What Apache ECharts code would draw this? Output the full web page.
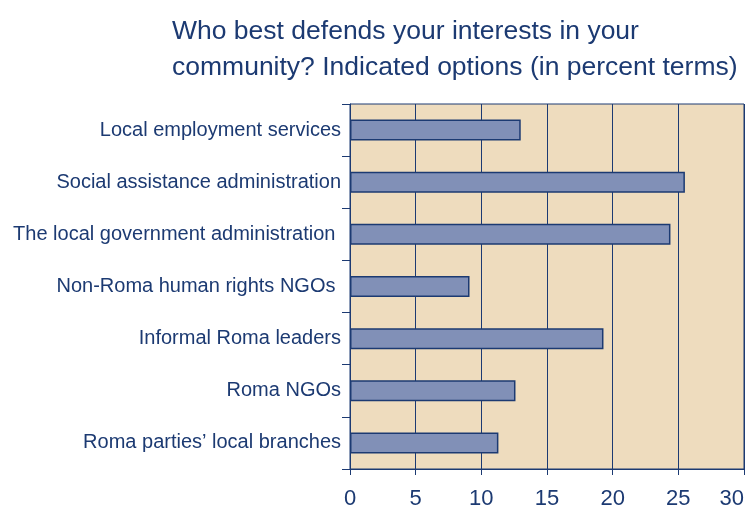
<!DOCTYPE html>
<html>
<head>
<meta charset="utf-8">
<script src="https://cdn.jsdelivr.net/npm/echarts@6/dist/echarts.min.js"></script>
<style>
    html, body { margin: 0; padding: 0; background: #fff; }
    #chart { width: 752px; height: 517px; }
</style>
</head>
<body>
<div id="chart"></div>
<script>
var categories = [
    'Local employment services',
    'Social assistance administration',
    'The local government administration ',
    'Non-Roma human rights NGOs ',
    'Informal Roma leaders',
    'Roma NGOs',
    'Roma parties\u2019 local branches'
];
var percents = [13.0, 25.5, 24.4, 9.1, 19.3, 12.6, 11.3];
var xTicks = [0, 30, 5]; // min, max, step

var navy = '#1c3a72';

var chart = echarts.init(document.getElementById('chart'));
var option = {
    backgroundColor: '#ffffff',
    textStyle: { fontFamily: 'Liberation Sans, Arial, sans-serif' },
    title: {
        text: 'Who best defends your interests in your\ncommunity? Indicated options (in percent terms)',
        left: 167,
        top: 9,
        textStyle: {
            color: navy,
            fontSize: 26.5,
            fontWeight: 'normal',
            lineHeight: 36
        }
    },
    grid: {
        show: true,
        left: 350,
        right: 8,
        top: 104,
        bottom: 48,
        outerBoundsMode: 'none',
        backgroundColor: '#eedcbe',
        borderColor: navy,
        borderWidth: 1
    },
    xAxis: {
        type: 'value',
        min: xTicks[0],
        max: xTicks[1],
        interval: xTicks[2],
        axisLine: { show: true, lineStyle: { color: navy, width: 1 } },
        axisTick: { show: true, length: 6, lineStyle: { color: navy } },
        splitLine: { show: true, lineStyle: { color: navy, width: 1 } },
        axisLabel: { color: navy, fontSize: 22, margin: 19, alignMaxLabel: 'right' }
    },
    yAxis: {
        type: 'category',
        inverse: true,
        data: categories,
        axisLine: { show: true, lineStyle: { color: navy } },
        axisTick: { show: true, length: 8, inside: false, lineStyle: { color: navy } },
        splitLine: { show: false },
        axisLabel: { color: navy, fontSize: 20, margin: 9 }
    },
    series: [
        {
            type: 'bar',
            data: percents,
            barWidth: 21,
            itemStyle: {
                color: '#8190b7',
                borderColor: navy,
                borderWidth: 1.5
            },
            silent: true
        }
    ]
};
chart.setOption(option);
</script>
</body>
</html>
